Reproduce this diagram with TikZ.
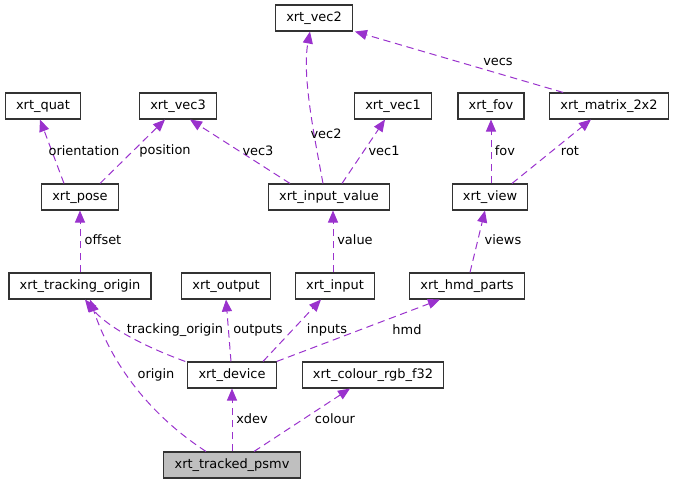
\documentclass[tikz,border=0pt]{standalone}
\usepackage{fontspec}
\setmainfont{DejaVu Sans}
\usetikzlibrary{arrows.meta,calc}

\definecolor{orchid}{RGB}{154,50,205}

\begin{document}
\begin{tikzpicture}[x=.75pt,y=-.75pt,>={Triangle[length=9pt,width=7.5pt]},
  cls/.style={draw=black!80,fill=white,line width=.8pt,inner xsep=8pt,minimum height=19.5pt,font=\fontsize{9.7}{11.6}\selectfont},
  dep/.style={->,draw=orchid,line width=.75pt,dash pattern=on 5.5pt off 3.5pt},
  lbl/.style={inner sep=0pt,font=\fontsize{9.7}{11.6}\selectfont}]
\useasboundingbox (0,0) rectangle (676,484);
% classes
\node[cls](vec2)at(314,18){xrt\_vec2};
\node[cls](quat)at(43,106){xrt\_quat};
\node[cls](vec3)at(178,106){xrt\_vec3};
\node[cls](vec1)at(393,106){xrt\_vec1};
\node[cls](fov)at(491,106){xrt\_fov};
\node[cls](matrix)at(609,106){xrt\_matrix\_2x2};
\node[cls](pose)at(80,197){xrt\_pose};
\node[cls](inval)at(329,197){xrt\_input\_value};
\node[cls](view)at(490,197){xrt\_view};
\node[cls](track)at(80,286){xrt\_tracking\_origin};
\node[cls](output)at(226,286){xrt\_output};
\node[cls](input)at(335,286){xrt\_input};
\node[cls](hmd)at(467,286){xrt\_hmd\_parts};
\node[cls](dev)at(232,375){xrt\_device};
\node[cls](colour)at(373,375){xrt\_colour\_rgb\_f32};
\node[cls,fill=black!25](psmv)at(232,465){xrt\_tracked\_psmv};
% members
\draw[dep]($(inval.north)+(-6,0)$)..controls(314,135)and(302,75)..($(vec2.south)+(-4,0)$);
\draw[dep]($(matrix.north west)+(14,0)$)--($(vec2.south east)+(2,0)$);
\draw[dep]($(pose.north)+(-16,0)$)--($(quat.south)+(-3,0)$);
\draw[dep]($(pose.north)+(20,0)$)--($(vec3.south)+(-13,0)$);
\draw[dep]($(inval.north)+(-39,0)$)--($(vec3.south)+(12,0)$);
\draw[dep]($(inval.north)+(13,0)$)--($(vec1.south)+(-8,0)$);
\draw[dep]($(view.north)+(1,0)$)--(fov.south);
\draw[dep]($(view.north)+(22,0)$)--($(matrix.south)+(-18,0)$);
\draw[dep](track.north)--(pose.south);
\draw[dep]($(input.north)+(-2,0)$)--($(inval.south)+(4,0)$);
\draw[dep]($(hmd.north)+(3,0)$)--($(view.south)+(-5,0)$);
\draw[dep]($(dev.north west)+(-2,0)$)..controls(140,345)and(105,325)..($(track.south)+(5,0)$);
\draw[dep]($(dev.north)+(-1,0)$)--(output.south);
\draw[dep]($(dev.north)+(31,0)$)--($(input.south)+(-14,0)$);
\draw[dep](dev.north east)--($(hmd.south)+(-27,0)$);
\draw[dep]($(psmv.north)+(-26,0)$)..controls(150,415)and(112,365)..($(track.south)+(10,0)$);
\draw[dep](psmv.north)--(dev.south);
\draw[dep]($(psmv.north)+(22,0)$)--($(colour.south)+(-23,0)$);
% labels
\node[lbl](lvec2)at(326,134){vec2};
\node[lbl](lvecs)at(498,62){vecs};
\node[lbl](lorient)at(84,151){orientation};
\node[lbl](lpos)at(165,151){position};
\node[lbl](lvec3)at(258,151){vec3};
\node[lbl](lvec1)at(384,151){vec1};
\node[lbl](lfov)at(505,151){fov};
\node[lbl](lrot)at(570,151){rot};
\node[lbl](loffset)at(103,240){offset};
\node[lbl](lvalue)at(355,240){value};
\node[lbl](lviews)at(503,240){views};
\node[lbl](ltrack)at(175,330){tracking\_origin};
\node[lbl](loutputs)at(258,330){outputs};
\node[lbl](linputs)at(327,330){inputs};
\node[lbl](lhmd)at(407,330){hmd};
\node[lbl](lorigin)at(156,375){origin};
\node[lbl](lxdev)at(252,419){xdev};
\node[lbl](lcolour)at(335,419){colour};
\end{tikzpicture}
\end{document}
